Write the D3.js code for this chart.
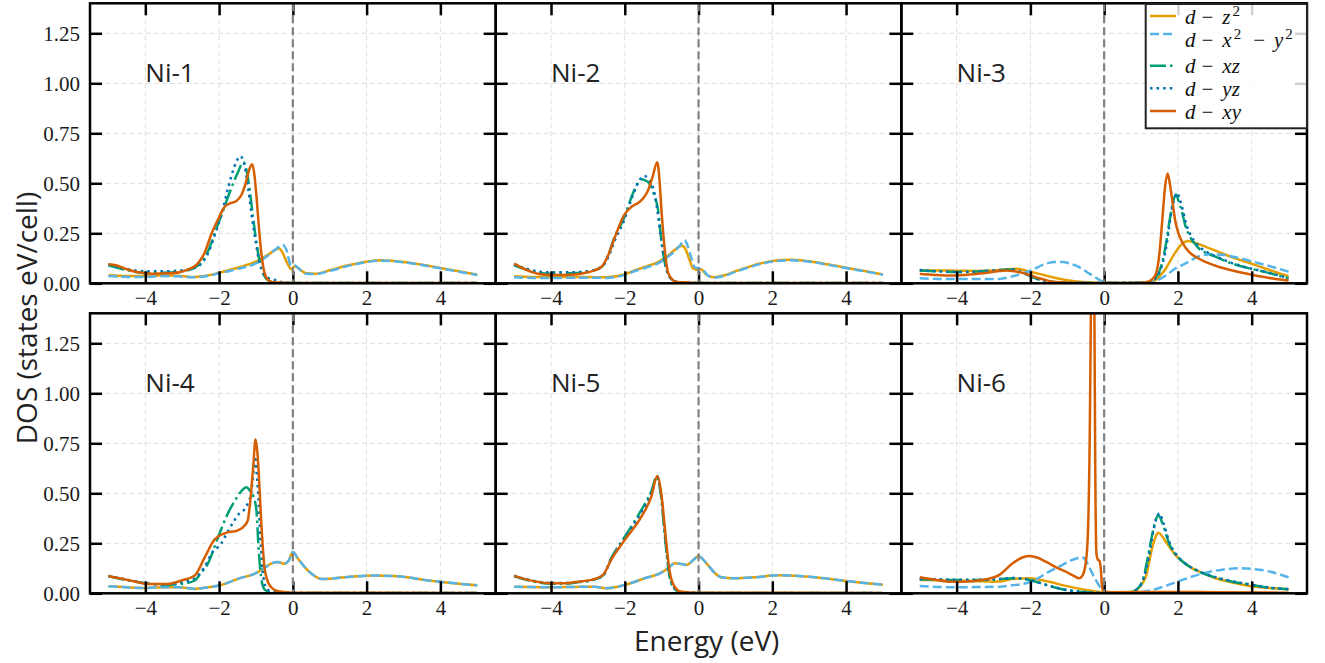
<!DOCTYPE html>
<html><head><meta charset="utf-8">
<script src="https://cdn.jsdelivr.net/npm/d3@7"></script>
<style>body{margin:0;background:#fff}</style>
</head><body>
<svg id="c" width="1325" height="663" xmlns="http://www.w3.org/2000/svg"></svg>
<script>
// ---------------- DATA ----------------
const xTicks = [-4, -2, 0, 2, 4];
const yTicks = [0, 0.25, 0.5, 0.75, 1.0, 1.25];
const xDomain = [-5.5, 5.5];
const yDomain = [0, 1.4];
const panelNames = ["Ni-1", "Ni-2", "Ni-3", "Ni-4", "Ni-5", "Ni-6"];
const orbitalKeys = ["z2", "x2y2", "xz", "yz", "xy"];
const legendLabels = ["d − z²", "d − x² − y²", "d − xz", "d − yz", "d − xy"];
const xLabel = "Energy (eV)";
const yLabel = "DOS (states eV/cell)";

// Ni-1
const ni1_z2 = [[-5.0,0.040],[-4.5,0.036],[-4.0,0.036],[-3.5,0.040],[-3.0,0.036],[-2.7,0.031],[-2.4,0.036],[-2.0,0.053],[-1.5,0.078],[-1.0,0.108],[-0.7,0.140],[-0.5,0.163],[-0.38,0.175],[-0.3,0.16],[-0.15,0.10],[-0.04,0.07],[0.05,0.085],[0.15,0.075],[0.36,0.05],[0.6,0.048],[1.0,0.065],[1.5,0.09],[2.0,0.108],[2.4,0.115],[3.0,0.107],[3.5,0.093],[4.0,0.077],[4.5,0.060],[5.0,0.043]];
const ni1_x2y2 = [[-5.0,0.036],[-4.5,0.032],[-4.0,0.032],[-3.5,0.036],[-3.0,0.033],[-2.7,0.030],[-2.4,0.034],[-2.0,0.05],[-1.5,0.072],[-1.0,0.100],[-0.7,0.135],[-0.5,0.165],[-0.35,0.185],[-0.27,0.192],[-0.18,0.17],[-0.05,0.09],[0.05,0.09],[0.15,0.075],[0.36,0.048],[0.6,0.046],[1.0,0.062],[1.5,0.087],[2.0,0.106],[2.4,0.113],[3.0,0.105],[3.5,0.091],[4.0,0.075],[4.5,0.058],[5.0,0.042]];
const ni1_xz = [[-5.0,0.09],[-4.7,0.075],[-4.3,0.058],[-4.0,0.052],[-3.5,0.053],[-3.0,0.06],[-2.7,0.075],[-2.5,0.10],[-2.3,0.16],[-2.1,0.26],[-1.9,0.36],[-1.7,0.46],[-1.5,0.55],[-1.34,0.605],[-1.25,0.56],[-1.18,0.48],[-1.08,0.33],[-1.0,0.22],[-0.9,0.11],[-0.8,0.045],[-0.65,0.012],[-0.5,0.004],[0,0.002],[5.0,0.001]];
const ni1_yz = [[-5.0,0.095],[-4.7,0.08],[-4.3,0.065],[-4.0,0.06],[-3.5,0.06],[-3.0,0.065],[-2.7,0.075],[-2.5,0.095],[-2.3,0.15],[-2.1,0.25],[-1.9,0.37],[-1.75,0.48],[-1.6,0.575],[-1.42,0.635],[-1.3,0.58],[-1.2,0.46],[-1.1,0.32],[-1.0,0.2],[-0.9,0.1],[-0.8,0.05],[-0.65,0.025],[-0.45,0.015],[-0.3,0.006],[0,0.002],[5.0,0.001]];
const ni1_xy = [[-5.0,0.095],[-4.8,0.09],[-4.5,0.07],[-4.2,0.055],[-3.8,0.048],[-3.3,0.05],[-2.9,0.065],[-2.6,0.095],[-2.4,0.15],[-2.2,0.25],[-2.0,0.33],[-1.86,0.38],[-1.7,0.40],[-1.54,0.41],[-1.4,0.44],[-1.28,0.5],[-1.18,0.57],[-1.1,0.595],[-1.04,0.54],[-0.98,0.42],[-0.92,0.28],[-0.86,0.16],[-0.78,0.06],[-0.68,0.018],[-0.55,0.005],[0,0.002],[5,0.001]];

// Ni-2
const ni2_z2 = [[-5.0,0.035],[-4.5,0.032],[-4.0,0.031],[-3.5,0.032],[-3.0,0.031],[-2.5,0.03],[-2.0,0.045],[-1.74,0.064],[-1.4,0.085],[-1.1,0.106],[-0.85,0.135],[-0.65,0.166],[-0.45,0.1875],[-0.35,0.17],[-0.25,0.12],[-0.15,0.075],[-0.05,0.068],[0.07,0.07],[0.2,0.045],[0.4,0.03],[0.7,0.04],[1.0,0.06],[1.34,0.081],[1.7,0.1],[2.0,0.112],[2.5,0.118],[3.0,0.11],[3.5,0.095],[4.0,0.078],[4.5,0.061],[5.0,0.044]];
const ni2_x2y2 = [[-5.0,0.03],[-4.5,0.027],[-4.0,0.026],[-3.5,0.028],[-3.0,0.028],[-2.5,0.027],[-2.0,0.042],[-1.74,0.06],[-1.4,0.08],[-1.1,0.1],[-0.85,0.13],[-0.65,0.16],[-0.5,0.19],[-0.38,0.216],[-0.3,0.19],[-0.2,0.13],[-0.1,0.08],[0.0,0.075],[0.1,0.07],[0.25,0.04],[0.42,0.028],[0.7,0.037],[1.0,0.057],[1.34,0.078],[1.7,0.097],[2.0,0.109],[2.5,0.115],[3.0,0.108],[3.5,0.093],[4.0,0.076],[4.5,0.06],[5.0,0.043]];
const ni2_xz = [[-5.0,0.09],[-4.7,0.07],[-4.3,0.052],[-4.0,0.048],[-3.5,0.05],[-3.0,0.058],[-2.64,0.08],[-2.45,0.14],[-2.28,0.23],[-2.01,0.33],[-1.8,0.44],[-1.65,0.50],[-1.56,0.52],[-1.45,0.515],[-1.3,0.49],[-1.2,0.44],[-1.1,0.37],[-1.0,0.2],[-0.9,0.09],[-0.8,0.035],[-0.65,0.01],[-0.5,0.003],[0,0.002],[5,0.001]];
const ni2_yz = [[-5.0,0.095],[-4.7,0.075],[-4.3,0.058],[-4.0,0.055],[-3.5,0.055],[-3.0,0.06],[-2.64,0.08],[-2.45,0.13],[-2.28,0.21],[-2.01,0.32],[-1.8,0.43],[-1.62,0.51],[-1.47,0.537],[-1.35,0.52],[-1.22,0.47],[-1.12,0.37],[-1.02,0.23],[-0.92,0.11],[-0.82,0.045],[-0.68,0.015],[-0.5,0.005],[0,0.002],[5,0.001]];
const ni2_xy = [[-5.0,0.098],[-4.7,0.07],[-4.36,0.048],[-4.0,0.042],[-3.46,0.043],[-3.0,0.055],[-2.64,0.081],[-2.45,0.14],[-2.28,0.225],[-2.01,0.343],[-1.8,0.385],[-1.65,0.40],[-1.5,0.425],[-1.38,0.46],[-1.25,0.53],[-1.12,0.605],[-1.06,0.52],[-1.01,0.377],[-0.92,0.174],[-0.83,0.056],[-0.72,0.02],[-0.6,0.006],[0,0.002],[5,0.001]];

// Ni-3
const ni3_z2 = [[-5.0,0.064],[-4.5,0.064],[-4.0,0.063],[-3.5,0.062],[-3.0,0.064],[-2.6,0.07],[-2.35,0.073],[-2.1,0.062],[-1.76,0.047],[-1.4,0.03],[-1.04,0.017],[-0.5,0.005],[0,0.002],[0.8,0.002],[1.1,0.004],[1.31,0.008],[1.5,0.035],[1.67,0.073],[1.8,0.115],[1.94,0.157],[2.1,0.195],[2.26,0.211],[2.5,0.2],[2.76,0.182],[3.1,0.157],[3.48,0.13],[4.0,0.098],[4.38,0.073],[4.7,0.053],[5.0,0.036]];
const ni3_x2y2 = [[-5.0,0.025],[-4.5,0.022],[-4.0,0.022],[-3.5,0.022],[-2.85,0.022],[-2.48,0.035],[-2.2,0.05],[-1.99,0.064],[-1.58,0.098],[-1.3,0.106],[-1.13,0.106],[-0.9,0.097],[-0.68,0.081],[-0.5,0.06],[-0.32,0.039],[-0.09,0.0135],[0.05,0.003],[1.0,0.002],[1.31,0.006],[1.5,0.02],[1.67,0.039],[1.94,0.075],[2.21,0.1],[2.57,0.135],[2.9,0.145],[3.2,0.143],[3.5,0.133],[4.0,0.11],[4.5,0.085],[5.0,0.058]];
const ni3_xz = [[-5.0,0.064],[-4.5,0.06],[-4.0,0.056],[-3.5,0.058],[-3.0,0.064],[-2.7,0.068],[-2.48,0.069],[-2.25,0.055],[-1.99,0.035],[-1.75,0.018],[-1.49,0.008],[-1.0,0.003],[0,0.002],[1.1,0.003],[1.3,0.015],[1.49,0.056],[1.58,0.11],[1.67,0.19],[1.78,0.32],[1.9,0.427],[1.95,0.444],[2.02,0.41],[2.12,0.35],[2.2,0.29],[2.3,0.242],[2.45,0.2],[2.57,0.174],[2.8,0.15],[3.03,0.132],[3.48,0.098],[4.0,0.072],[4.38,0.056],[4.7,0.04],[5.0,0.025]];
const ni3_yz = [[-5.0,0.066],[-4.5,0.06],[-4.0,0.057],[-3.5,0.058],[-3.0,0.063],[-2.7,0.067],[-2.48,0.068],[-2.25,0.056],[-1.99,0.036],[-1.75,0.019],[-1.49,0.009],[-1.0,0.003],[0,0.002],[1.1,0.003],[1.3,0.013],[1.49,0.05],[1.6,0.11],[1.7,0.2],[1.8,0.33],[1.92,0.43],[1.98,0.452],[2.05,0.42],[2.14,0.36],[2.22,0.3],[2.32,0.25],[2.45,0.21],[2.6,0.18],[2.8,0.155],[3.03,0.135],[3.48,0.1],[4.0,0.073],[4.38,0.057],[4.7,0.041],[5.0,0.026]];
const ni3_xy = [[-5.0,0.047],[-4.6,0.042],[-4.2,0.039],[-3.8,0.042],[-3.3,0.05],[-2.85,0.061],[-2.66,0.064],[-2.45,0.06],[-2.21,0.052],[-2.0,0.04],[-1.76,0.025],[-1.5,0.012],[-1.22,0.005],[-0.5,0.002],[0.8,0.002],[1.13,0.005],[1.3,0.02],[1.4,0.045],[1.5,0.15],[1.58,0.326],[1.65,0.48],[1.72,0.549],[1.78,0.50],[1.85,0.41],[1.93,0.31],[2.03,0.242],[2.15,0.195],[2.3,0.157],[2.5,0.13],[2.76,0.106],[3.1,0.083],[3.48,0.064],[4.0,0.043],[4.38,0.03],[4.7,0.02],[5.0,0.0135]];

// Ni-4
const ni4_z2 = [[-5.0,0.035],[-4.5,0.03],[-4.0,0.027],[-3.5,0.03],[-3.1,0.03],[-2.66,0.022],[-2.3,0.03],[-2.0,0.039],[-1.49,0.072],[-0.95,0.106],[-0.75,0.13],[-0.59,0.148],[-0.41,0.156],[-0.23,0.148],[-0.12,0.161],[0.0,0.206],[0.14,0.173],[0.41,0.114],[0.6,0.085],[0.77,0.072],[1.13,0.075],[1.67,0.084],[2.21,0.089],[2.75,0.086],[3.1,0.08],[3.57,0.067],[4.0,0.058],[4.5,0.048],[5.0,0.04]];
const ni4_x2y2 = [[-5.0,0.035],[-4.5,0.03],[-4.0,0.027],[-3.5,0.03],[-3.1,0.03],[-2.66,0.022],[-2.3,0.03],[-2.0,0.039],[-1.49,0.072],[-0.95,0.106],[-0.75,0.13],[-0.59,0.148],[-0.41,0.156],[-0.23,0.148],[-0.12,0.161],[0.0,0.206],[0.14,0.173],[0.41,0.114],[0.6,0.085],[0.77,0.072],[1.13,0.075],[1.67,0.084],[2.21,0.089],[2.75,0.086],[3.1,0.08],[3.57,0.067],[4.0,0.058],[4.5,0.048],[5.0,0.04]];
const ni4_xz = [[-5.0,0.085],[-4.5,0.066],[-4.0,0.05],[-3.5,0.042],[-3.0,0.048],[-2.66,0.064],[-2.5,0.1],[-2.3,0.15],[-2.03,0.28],[-1.76,0.40],[-1.55,0.47],[-1.4,0.51],[-1.26,0.53],[-1.15,0.51],[-1.08,0.49],[-0.99,0.42],[-0.93,0.23],[-0.86,0.08],[-0.77,0.02],[-0.6,0.005],[0,0.002],[5,0.001]];
const ni4_yz = [[-5.0,0.087],[-4.5,0.068],[-4.0,0.05],[-3.5,0.045],[-3.0,0.055],[-2.66,0.075],[-2.4,0.13],[-2.2,0.2],[-1.94,0.25],[-1.76,0.31],[-1.58,0.366],[-1.45,0.40],[-1.31,0.42],[-1.2,0.46],[-1.13,0.5],[-1.06,0.62],[-1.02,0.685],[-0.98,0.6],[-0.95,0.53],[-0.88,0.28],[-0.8,0.08],[-0.7,0.02],[-0.5,0.005],[0,0.002],[5,0.001]];
const ni4_xy = [[-5.0,0.086],[-4.47,0.067],[-3.93,0.047],[-3.39,0.047],[-3.02,0.064],[-2.66,0.089],[-2.39,0.18],[-2.12,0.27],[-1.85,0.30],[-1.49,0.315],[-1.3,0.34],[-1.22,0.366],[-1.15,0.47],[-1.08,0.62],[-1.01,0.77],[-0.96,0.70],[-0.93,0.62],[-0.86,0.366],[-0.77,0.13],[-0.7,0.07],[-0.63,0.04],[-0.4,0.01],[0,0.003],[5,0.002]];

// Ni-5
const ni5_z2 = [[-5.0,0.033],[-4.5,0.031],[-4.0,0.03],[-3.4,0.032],[-2.82,0.033],[-2.5,0.025],[-2.0,0.042],[-1.46,0.075],[-1.01,0.103],[-0.8,0.13],[-0.65,0.15],[-0.5,0.148],[-0.33,0.142],[-0.15,0.165],[0.0,0.187],[0.12,0.17],[0.25,0.142],[0.45,0.1],[0.61,0.08],[0.98,0.075],[1.52,0.08],[2.15,0.09],[2.6,0.088],[3.0,0.083],[3.41,0.075],[4.0,0.062],[4.5,0.052],[5.0,0.043]];
const ni5_x2y2 = [[-5.0,0.033],[-4.5,0.031],[-4.0,0.03],[-3.4,0.032],[-2.82,0.033],[-2.5,0.025],[-2.0,0.042],[-1.46,0.075],[-1.01,0.103],[-0.8,0.13],[-0.65,0.15],[-0.5,0.148],[-0.33,0.142],[-0.15,0.165],[0.0,0.187],[0.12,0.17],[0.25,0.142],[0.45,0.1],[0.61,0.08],[0.98,0.075],[1.52,0.08],[2.15,0.09],[2.6,0.088],[3.0,0.083],[3.41,0.075],[4.0,0.062],[4.5,0.052],[5.0,0.043]];
const ni5_xz = [[-5.0,0.085],[-4.62,0.065],[-4.0,0.048],[-3.6,0.048],[-3.27,0.055],[-2.9,0.065],[-2.59,0.09],[-2.37,0.175],[-2.0,0.283],[-1.55,0.417],[-1.28,0.51],[-1.13,0.583],[-1.02,0.49],[-0.91,0.28],[-0.8,0.1],[-0.67,0.025],[-0.5,0.006],[0,0.002],[5,0.001]];
const ni5_yz = [[-5.0,0.088],[-4.62,0.068],[-4.0,0.052],[-3.6,0.052],[-3.27,0.058],[-2.9,0.066],[-2.59,0.088],[-2.37,0.17],[-2.0,0.275],[-1.55,0.405],[-1.28,0.5],[-1.12,0.585],[-1.02,0.5],[-0.91,0.29],[-0.8,0.11],[-0.67,0.03],[-0.5,0.008],[0,0.002],[5,0.001]];
const ni5_xy = [[-5.0,0.087],[-4.62,0.067],[-4.0,0.05],[-3.6,0.05],[-3.27,0.058],[-2.9,0.067],[-2.59,0.092],[-2.37,0.167],[-2.0,0.267],[-1.55,0.383],[-1.28,0.483],[-1.12,0.587],[-1.01,0.50],[-0.9,0.30],[-0.79,0.117],[-0.65,0.033],[-0.47,0.008],[0,0.003],[5,0.002]];

// Ni-6
const ni6_z2 = [[-5.0,0.067],[-4.5,0.065],[-4.0,0.063],[-3.5,0.062],[-3.0,0.058],[-2.75,0.06],[-2.5,0.072],[-2.03,0.075],[-1.75,0.068],[-1.49,0.058],[-1.04,0.037],[-0.5,0.017],[-0.05,0.005],[0.3,0.002],[0.77,0.008],[0.95,0.03],[1.13,0.083],[1.31,0.233],[1.47,0.303],[1.67,0.258],[1.94,0.19],[2.2,0.148],[2.39,0.125],[2.7,0.1],[3.02,0.075],[3.5,0.053],[3.93,0.037],[4.5,0.027],[5.0,0.02]];
const ni6_x2y2 = [[-5.0,0.037],[-4.5,0.032],[-4.0,0.03],[-3.5,0.031],[-2.84,0.033],[-2.5,0.04],[-2.12,0.05],[-1.8,0.075],[-1.49,0.108],[-1.15,0.14],[-0.86,0.167],[-0.6,0.18],[-0.5,0.165],[-0.41,0.133],[-0.23,0.067],[-0.05,0.017],[0.1,0.003],[0.8,0.003],[1.22,0.013],[1.67,0.037],[2.12,0.067],[2.75,0.103],[3.2,0.118],[3.66,0.125],[4.0,0.122],[4.38,0.113],[4.7,0.098],[5.0,0.08]];
const ni6_xz = [[-5.0,0.07],[-4.5,0.068],[-4.0,0.066],[-3.5,0.066],[-2.84,0.07],[-2.48,0.075],[-2.03,0.067],[-1.75,0.052],[-1.49,0.037],[-1.04,0.017],[-0.5,0.005],[0,0.002],[0.7,0.005],[0.95,0.033],[1.07,0.08],[1.17,0.167],[1.3,0.29],[1.4,0.367],[1.47,0.39],[1.58,0.35],[1.76,0.25],[2.03,0.175],[2.3,0.135],[2.57,0.108],[3.0,0.08],[3.48,0.058],[4.0,0.042],[4.38,0.03],[5.0,0.02]];
const ni6_yz = [[-5.0,0.072],[-4.5,0.07],[-4.0,0.068],[-3.5,0.068],[-2.84,0.072],[-2.48,0.076],[-2.03,0.068],[-1.75,0.053],[-1.49,0.038],[-1.04,0.018],[-0.5,0.006],[0,0.002],[0.7,0.005],[0.95,0.03],[1.07,0.075],[1.2,0.17],[1.32,0.3],[1.42,0.375],[1.5,0.4],[1.6,0.355],[1.78,0.25],[2.03,0.178],[2.3,0.137],[2.57,0.11],[3.0,0.082],[3.48,0.06],[4.0,0.043],[4.38,0.031],[5.0,0.021]];
const ni6_xy = [[-5.0,0.08],[-4.5,0.065],[-4.2,0.058],[-3.8,0.058],[-3.3,0.067],[-2.84,0.092],[-2.48,0.15],[-2.2,0.18],[-2.03,0.187],[-1.8,0.178],[-1.58,0.158],[-1.3,0.13],[-1.04,0.108],[-0.8,0.085],[-0.68,0.075],[-0.6,0.085],[-0.5,0.15],[-0.44,0.3],[-0.39,0.8],[-0.35,1.6],[-0.31,2.4],[-0.27,1.6],[-0.24,0.6],[-0.21,0.2],[-0.17,0.168],[-0.12,0.16],[-0.09,0.12],[-0.06,0.04],[-0.02,0.01],[0.2,0.005],[1.0,0.006],[2.0,0.007],[3.0,0.005],[5.0,0.003]];

const panelData = [
  {z2: ni1_z2, x2y2: ni1_x2y2, xz: ni1_xz, yz: ni1_yz, xy: ni1_xy},
  {z2: ni2_z2, x2y2: ni2_x2y2, xz: ni2_xz, yz: ni2_yz, xy: ni2_xy},
  {z2: ni3_z2, x2y2: ni3_x2y2, xz: ni3_xz, yz: ni3_yz, xy: ni3_xy},
  {z2: ni4_z2, x2y2: ni4_x2y2, xz: ni4_xz, yz: ni4_yz, xy: ni4_xy},
  {z2: ni5_z2, x2y2: ni5_x2y2, xz: ni5_xz, yz: ni5_yz, xy: ni5_xy},
  {z2: ni6_z2, x2y2: ni6_x2y2, xz: ni6_xz, yz: ni6_yz, xy: ni6_xy}
];

// ---------------- STYLE / LAYOUT ----------------
const styles = {
  z2:   {color: "#E69F00", dash: null},
  x2y2: {color: "#56B4E9", dash: "9,4"},
  xz:   {color: "#009E73", dash: "16,4,2.5,4"},
  yz:   {color: "#0072B2", dash: "2.5,4.1"},
  xy:   {color: "#D55E00", dash: null}
};
const LW = 2.5;
const PW = 405.7, PH = 280;
const colX = [90, 495.7, 901.3];
const rowY = [3.3, 313.3];
const SERIF = '"Liberation Serif","DejaVu Serif",serif';
const SANS = '"Open Sans","Noto Sans",sans-serif';

const svg = d3.select("#c");
const x = d3.scaleLinear().domain(xDomain).range([0, PW]);
const y = d3.scaleLinear().domain(yDomain).range([PH, 0]);
const line = d3.line().x(d => x(d[0])).y(d => y(d[1])).curve(d3.curveMonotoneX);

function styleAxis(sel) {
  sel.select(".domain").remove();
  sel.attr("font-family", null).attr("font-size", null);
  sel.selectAll(".tick line").attr("stroke", "#000").attr("stroke-width", 2.5);
  sel.selectAll(".tick text").attr("fill", "#1a1a1a")
    .style("font-family", SERIF).style("font-size", "21px");
}

panelData.forEach((p, i) => {
  const col = i % 3, row = Math.floor(i / 3);
  const g = svg.append("g").attr("transform", `translate(${colX[col]},${rowY[row]})`);
  const cid = "clip" + i;
  g.append("clipPath").attr("id", cid).append("rect").attr("width", PW).attr("height", PH);

  // grid
  const grid = g.append("g").attr("stroke", "#dedede").attr("stroke-width", 1).attr("stroke-dasharray", "5,3");
  grid.selectAll("line.gx").data(xTicks).join("line").attr("class", "gx")
    .attr("x1", d => x(d)).attr("x2", d => x(d)).attr("y1", 0).attr("y2", PH);
  grid.selectAll("line.gy").data(yTicks).join("line").attr("class", "gy")
    .attr("x1", 0).attr("x2", PW).attr("y1", d => y(d)).attr("y2", d => y(d));

  // curves
  const cg = g.append("g").attr("clip-path", `url(#${cid})`);
  orbitalKeys.forEach(k => {
    cg.append("path").datum(p[k])
      .attr("d", line)
      .attr("fill", "none")
      .attr("stroke", styles[k].color)
      .attr("stroke-width", LW)
      .attr("stroke-linejoin", "round")
      .attr("stroke-dasharray", styles[k].dash);
  });

  // axes (inward ticks on all sides)
  g.append("g").attr("transform", `translate(0,${PH})`)
    .call(d3.axisBottom(x).tickValues(xTicks).tickSizeInner(-12).tickSizeOuter(0).tickPadding(7))
    .call(styleAxis);
  g.append("g")
    .call(d3.axisTop(x).tickValues(xTicks).tickSizeInner(-12).tickSizeOuter(0).tickFormat(""))
    .call(styleAxis);
  g.append("g")
    .call(d3.axisLeft(y).tickValues(yTicks).tickSizeInner(-12).tickSizeOuter(0).tickPadding(10)
      .tickFormat(col === 0 ? d3.format(".2f") : ""))
    .call(styleAxis);
  g.append("g").attr("transform", `translate(${PW},0)`)
    .call(d3.axisRight(y).tickValues(yTicks).tickSizeInner(-12).tickSizeOuter(0).tickFormat(""))
    .call(styleAxis);

  // Fermi level
  g.append("line")
    .attr("x1", x(0)).attr("x2", x(0)).attr("y1", 0).attr("y2", PH)
    .attr("stroke", "#808080").attr("stroke-width", 2.2).attr("stroke-dasharray", "8,4");

  // frame
  g.append("rect").attr("width", PW).attr("height", PH)
    .attr("fill", "none").attr("stroke", "#000").attr("stroke-width", 2.5);

  // panel name
  g.append("text").attr("x", x(-4)).attr("y", y(1.0) - 1)
    .style("font-family", SANS).style("font-size", "26px").attr("fill", "#222")
    .text(panelNames[i]);
});

// legend (in panel 3)
const lg = svg.append("g");
const L = {x0: 1145.7, y0: 4, w: 161.3, h: 124.3};
lg.append("rect").attr("x", L.x0).attr("y", L.y0).attr("width", L.w).attr("height", L.h)
  .attr("fill", "#fff").attr("fill-opacity", 0.82).attr("stroke", "#222").attr("stroke-width", 2);
const handleY = [16, 34, 65.7, 88.3, 111];
const textY = [24, 46.7, 73.3, 95.7, 119];
orbitalKeys.forEach((k, i) => {
  lg.append("line").attr("x1", 1150).attr("x2", 1176).attr("y1", handleY[i]).attr("y2", handleY[i])
    .attr("stroke", styles[k].color).attr("stroke-width", LW).attr("stroke-dasharray", styles[k].dash);
  const t = lg.append("text").attr("x", 1185).attr("y", textY[i])
    .style("font-family", SERIF).style("font-size", "21px").attr("fill", "#111");
  const chars = Array.from(legendLabels[i]).filter(c => c !== " ");
  let prev = null, supUp = false;
  chars.forEach(c => {
    let dx = 0;
    if (c === "−") dx = prev === "sup" ? 12 : 6;
    else if (c === "²") dx = 2;
    else if (prev === "minus") dx = 9;
    if (c === "−") {
      t.append("tspan").attr("dx", dx).attr("dy", supUp ? 8 : 0).text("−");
      supUp = false; prev = "minus";
    } else if (c === "²") {
      t.append("tspan").attr("dx", dx).attr("dy", -8).style("font-size", "15px").text("2");
      supUp = true; prev = "sup";
    } else {
      t.append("tspan").attr("dx", dx).attr("dy", supUp ? 8 : 0).style("font-style", "italic").text(c);
      supUp = false; prev = "letter";
    }
  });
});

// axis labels
svg.append("text").attr("x", 706.7).attr("y", 650.5).attr("text-anchor", "middle")
  .style("font-family", SANS).style("font-size", "28px").attr("fill", "#222").text(xLabel);
svg.append("text").attr("transform", "translate(37,318) rotate(-90)").attr("text-anchor", "middle")
  .style("font-family", SANS).style("font-size", "28px").attr("fill", "#222").text(yLabel);
</script>
</body></html>
